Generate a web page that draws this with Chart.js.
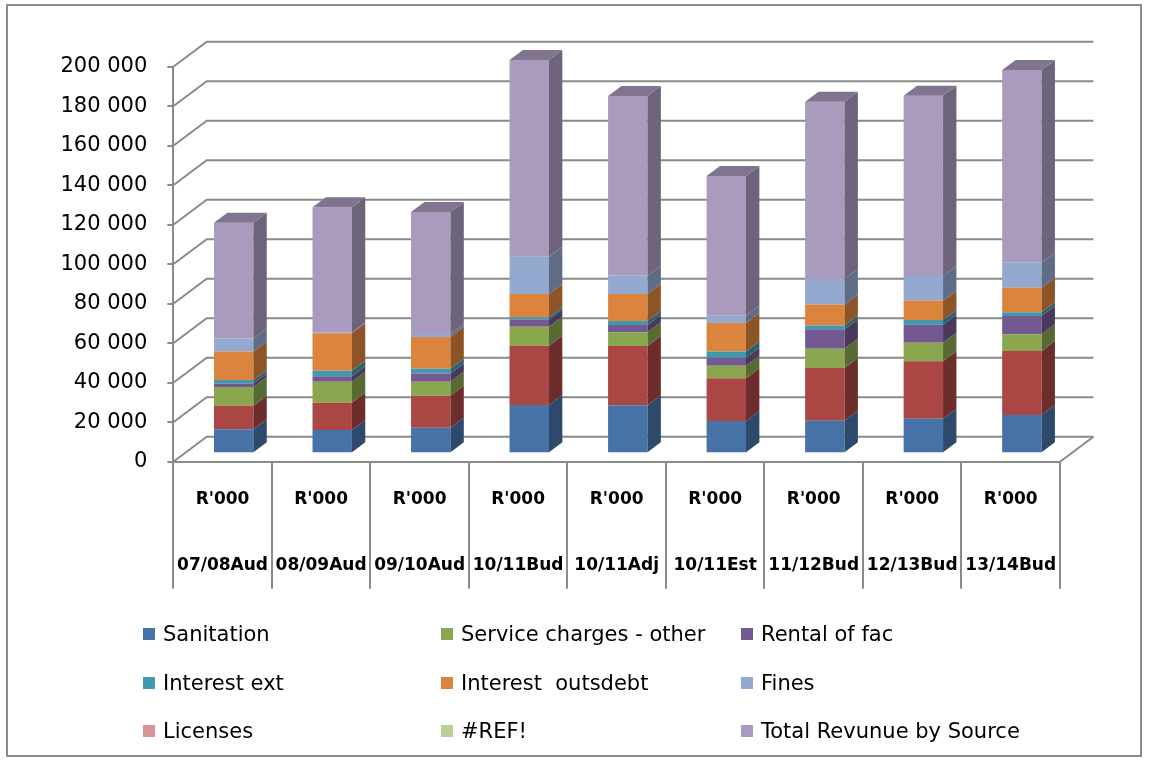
<!DOCTYPE html>
<html>
<head>
<meta charset="utf-8">
<script src="https://cdn.jsdelivr.net/npm/chart.js@4.4.1/dist/chart.umd.min.js"></script>
<style>
  html, body { margin: 0; padding: 0; background: #fff; }
  #wrap { position: relative; width: 1150px; height: 762px; }
  #c { position: absolute; left: 0; top: 0; }
  #legend { position: absolute; left: 0; top: 0; width: 1150px; height: 762px; pointer-events: none;
            font-family: 'DejaVu Sans', sans-serif; font-size: 21px; color: #000; }
  #legend .item { position: absolute; display: flex; align-items: center; white-space: pre; height: 24px; }
  #legend .sw { width: 12px; height: 12px; margin-right: 8px; flex: none; }
</style>
</head>
<body>
<div id="wrap">
  <canvas id="c" width="1150" height="762"></canvas>
  <div id="legend"></div>
</div>
<script>
// Revenue by source, R'000
const categories = ['07/08Aud', '08/09Aud', '09/10Aud', '10/11Bud', '10/11Adj', '10/11Est', '11/12Bud', '12/13Bud', '13/14Bud'];
const unitLabel = "R'000";

const sanitation       = [12200, 11800, 13000, 24500, 24300, 16400, 16500, 17500, 19400];
const refuseRemoval    = [11900, 13800, 16200, 30000, 30000, 21600, 26700, 29200, 32400];
const serviceOther     = [ 9500, 10700,  7100,  9600,  7000,  6400,  9800,  9300,  8500];
const rentalOfFac      = [ 1800,  2800,  4200,  3700,  3700,  4000,  9800,  9100,  9200];
const interestExt      = [ 1700,  2700,  2300,  1100,  2000,  3200,  2000,  2400,  2000];
const interestOutsdebt = [14500, 19000, 16100, 11800, 13700, 14400, 10600,  9800, 12300];
const fines            = [ 6600,   500,  1500, 18800,  9200,  3700, 12900, 12500, 12700];
const licenses         = [    0,     0,     0,     0,     0,     0,     0,     0,     0];
const refError         = [    0,     0,     0,     0,     0,     0,     0,     0,     0];
const totalRevenue     = [58600, 63300, 61800, 99700, 91000, 70700, 89700, 91300, 97600];

const yMin = 0, yMax = 200000, yStep = 20000;

// series in stacking order (bottom to top)
const series = [
  { label: 'Sanitation',               data: sanitation,       color: '#4672A8', legend: 0 },
  { label: 'Refuse removal',           data: refuseRemoval,    color: '#AA4644', legend: -1 },
  { label: 'Service charges - other',  data: serviceOther,     color: '#8AA64F', legend: 1 },
  { label: 'Rental of fac',            data: rentalOfFac,      color: '#725990', legend: 2 },
  { label: 'Interest ext',             data: interestExt,      color: '#4199B0', legend: 3 },
  { label: 'Interest  outsdebt',       data: interestOutsdebt, color: '#DB843D', legend: 4 },
  { label: 'Fines',                    data: fines,            color: '#94A9D0', legend: 5 },
  { label: 'Licenses',                 data: licenses,         color: '#D69593', legend: 6 },
  { label: '#REF!',                    data: refError,         color: '#BBCF97', legend: 7 },
  { label: 'Total Revunue by Source',  data: totalRevenue,     color: '#AA9BBE', legend: 8 }
];

// oblique projection of the wall depth
const DX = 33.4, DY = -25;
const BAR_FRONT = 1 / 3;   // bar front face position inside the depth
const BAR_DEPTH = 0.4;     // bar thickness as a share of the depth
const GRID = '#8a8a8a';

function shade(hex, f) {
  const n = parseInt(hex.slice(1), 16);
  const r = Math.round(((n >> 16) & 255) * f);
  const g = Math.round(((n >> 8) & 255) * f);
  const b = Math.round((n & 255) * f);
  return `rgb(${r},${g},${b})`;
}

function fmtThousands(v) {
  return String(v).replace(/\B(?=(\d{3})+(?!\d))/g, ' ');
}

const depth3d = {
  id: 'depth3d',
  beforeDraw(chart) {
    const ctx = chart.ctx;
    ctx.save();
    ctx.fillStyle = '#fff';
    ctx.fillRect(0, 0, chart.width, chart.height);
    ctx.strokeStyle = '#8c8c8c';
    ctx.lineWidth = 2;
    ctx.strokeRect(7, 5, 1134, 751);
    ctx.restore();
  },
  beforeDatasetsDraw(chart) {
    const { ctx, chartArea: { left, right }, scales: { y } } = chart;
    ctx.save();
    ctx.strokeStyle = GRID;
    ctx.lineWidth = 2;
    y.ticks.forEach(t => {
      const py = y.getPixelForValue(t.value);
      ctx.beginPath();
      ctx.moveTo(left, py);
      ctx.lineTo(left + DX, py + DY);
      ctx.lineTo(right + DX, py + DY);
      ctx.stroke();
    });
    const p0 = y.getPixelForValue(0);
    ctx.beginPath();
    ctx.moveTo(right, p0);
    ctx.lineTo(right + DX, p0 + DY);
    ctx.stroke();
    ctx.restore();
    ctx.save();
    ctx.translate(DX * BAR_FRONT, DY * BAR_FRONT);
  },
  afterDatasetsDraw(chart) {
    const ctx = chart.ctx;
    const sx = DX * BAR_DEPTH, sy = DY * BAR_DEPTH;
    const n = chart.data.labels.length;
    for (let j = 0; j < n; j++) {
      let top = null;
      chart.data.datasets.forEach((ds, i) => {
        const el = chart.getDatasetMeta(i).data[j];
        if (!el || !ds.data[j]) return;
        const p = el.getProps(['x', 'y', 'base', 'width'], true);
        const r = p.x + p.width / 2;
        ctx.fillStyle = shade(ds.backgroundColor, 0.64);
        ctx.beginPath();
        ctx.moveTo(r, p.y);
        ctx.lineTo(r + sx, p.y + sy);
        ctx.lineTo(r + sx, p.base + sy);
        ctx.lineTo(r, p.base);
        ctx.closePath();
        ctx.fill();
        top = { p, color: ds.backgroundColor };
      });
      if (top) {
        const { p, color } = top;
        const l = p.x - p.width / 2, r = p.x + p.width / 2;
        ctx.fillStyle = shade(color, 0.75);
        ctx.beginPath();
        ctx.moveTo(l, p.y);
        ctx.lineTo(l + sx, p.y + sy);
        ctx.lineTo(r + sx, p.y + sy);
        ctx.lineTo(r, p.y);
        ctx.closePath();
        ctx.fill();
      }
    }
    ctx.restore();
  }
};

const chart = new Chart(document.getElementById('c'), {
  type: 'bar',
  data: {
    labels: categories.map(c => [unitLabel, c]),
    datasets: series.map(s => ({
      label: s.label,
      data: s.data,
      backgroundColor: s.color,
      borderWidth: 0,
      clip: false,
      barPercentage: 0.4,
      categoryPercentage: 1
    }))
  },
  options: {
    responsive: false,
    animation: false,
    devicePixelRatio: 1,
    layout: { padding: { left: 0, top: 66.7, right: 90, bottom: 0 } },
    plugins: { legend: { display: false }, tooltip: { enabled: false } },
    scales: {
      x: {
        stacked: true,
        grid: { offset: true, drawOnChartArea: false, tickLength: 127, color: GRID, lineWidth: 2 },
        border: { display: true, color: GRID, width: 2 },
        ticks: {
          autoSkip: false, maxRotation: 0, minRotation: 0, padding: -122, color: '#000',
          font: { family: 'DejaVu Sans', size: 17, weight: 'bold', lineHeight: '66px' }
        },
        afterFit: s => { s.height = 762 - 461.7; }
      },
      y: {
        stacked: true,
        min: yMin, max: yMax,
        grid: { drawOnChartArea: false, tickLength: 6, color: GRID, lineWidth: 2 },
        border: { display: true, color: GRID, width: 2 },
        ticks: {
          stepSize: yStep, padding: 20, color: '#000',
          font: { family: 'DejaVu Sans', size: 21 },
          callback: v => fmtThousands(v)
        },
        afterFit: s => { s.width = 173.3; }
      }
    }
  },
  plugins: [depth3d]
});

// three-column legend below the plot
const legendCols = [143, 441, 741];
const legendRows = [634, 683, 731];
const legendBox = document.getElementById('legend');
series.filter(s => s.legend >= 0).forEach(s => {
  const item = document.createElement('div');
  item.className = 'item';
  item.style.left = legendCols[s.legend % 3] + 'px';
  item.style.top = (legendRows[Math.floor(s.legend / 3)] - 12) + 'px';
  const sw = document.createElement('span');
  sw.className = 'sw';
  sw.style.background = s.color;
  const tx = document.createElement('span');
  tx.textContent = s.label;
  item.appendChild(sw);
  item.appendChild(tx);
  legendBox.appendChild(item);
});
</script>
</body>
</html>
